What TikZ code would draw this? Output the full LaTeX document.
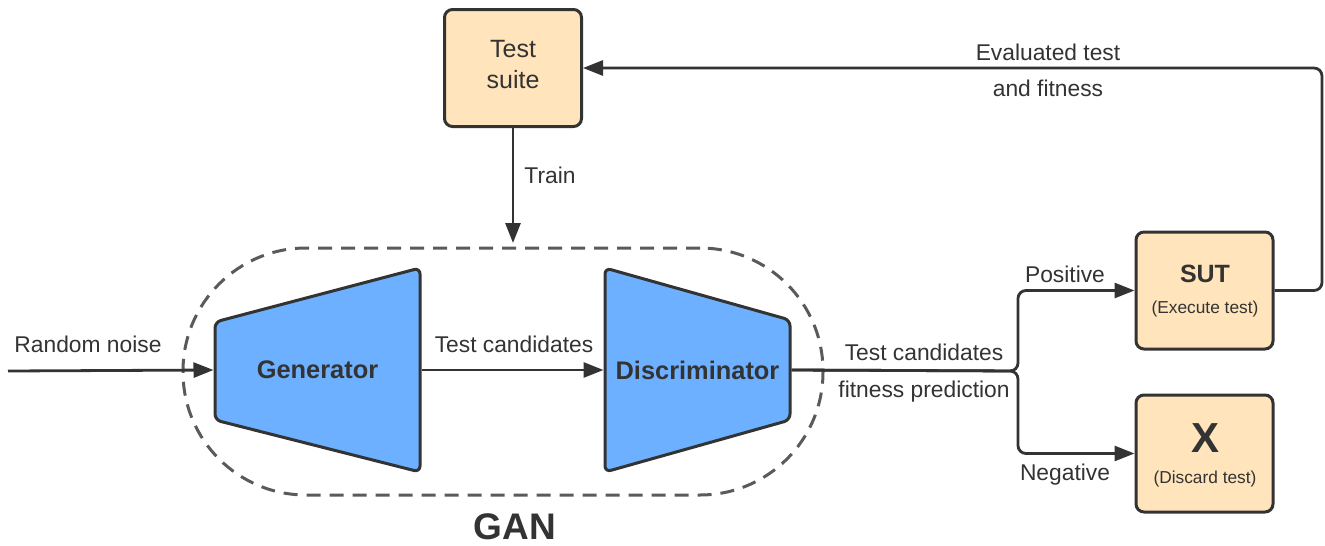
\documentclass[tikz,border=0pt]{standalone}
\usepackage{fontspec}
\setmainfont{Liberation Sans}
\usetikzlibrary{arrows.meta,calc}
\definecolor{ink}{HTML}{333333}
\definecolor{peach}{HTML}{FFE4BC}
\definecolor{azure}{HTML}{6CB0FF}
\definecolor{dashgray}{HTML}{5A5A5A}
\newcommand{\fsz}[1]{\fontsize{#1}{#1}\selectfont}

\begin{document}
\begin{tikzpicture}[x=1pt,y=-1pt,
  every node/.style={text=ink},
  box/.style={draw=ink, fill=peach, line width=3pt, rounded corners=8pt,
    minimum width=137pt, minimum height=117pt, inner sep=0pt},
  trap/.style={draw=ink, fill=azure, line width=3pt, rounded corners=6pt},
  holder/.style={inner sep=0pt, outer sep=0pt, minimum height=10pt,
    font=\fsz{25.4}\bfseries},
  lbl/.style={font=\fsz{22.8}, inner sep=0pt, anchor=base},
  boxtxt/.style={font=\fsz{25}, inner sep=0pt, anchor=base},
  smalltxt/.style={font=\fsz{17.3}, inner sep=0pt, anchor=base},
  conn/.style={draw=ink, line width=2.8pt},
  arrow/.style={conn, -{Triangle[length=20pt,width=15pt]}},
  gangroup/.style={draw=dashgray, line width=3pt, dash pattern=on 14pt off 9pt,
    rounded corners=123pt, minimum width=640pt, minimum height=247pt, inner sep=0pt}
]
\useasboundingbox (0,0) rectangle (1325,546);

% GAN group boundary
\node[gangroup] (gan) at (503,371.5) {};
\node[font=\fsz{37}\bfseries, inner sep=0pt, anchor=base] (gantitle) at (515,539) {GAN};

% generator and discriminator bodies
\path[trap] (215,322) -- (420,268) -- (420,472) -- (215,420) -- cycle;
\path[trap] (605,268) -- (790,320) -- (790,420) -- (605,472) -- cycle;
\node[holder, minimum width=208pt] (gen) at (317.5,370) {Generator};
\node[holder, minimum width=188pt] (disc) at (697.5,370) {Discriminator};

% boxes
\node[box] (ts) at (513,68) {};
\node[boxtxt] (tstext1) at (513,57) {Test};
\node[boxtxt] (tstext2) at (513,88) {suite};

\node[box] (sut) at (1204.5,290.5) {};
\node[font=\fsz{25}\bfseries, inner sep=0pt, anchor=base] (suttext) at (1205,282) {SUT};
\node[smalltxt] (sutsub) at (1205,313) {(Execute test)};

\node[box] (xbox) at (1204.5,453.5) {};
\node[font=\fsz{42}\bfseries, inner sep=0pt, anchor=base] (xtext) at (1205,452) {X};
\node[smalltxt] (xsub) at (1205,483) {(Discard test)};

% connectors
\coordinate (noise) at (8,371);
\coordinate (split) at (1018,371);
\coordinate (fbk) at (1322,68);

\draw[arrow] (noise) -- (gen.west);
\draw[arrow] (gen.east) -- (disc.west);
\draw[arrow] (ts.south) -- ([yshift=3.5pt]gan.north -| ts.south);
\draw[arrow, rounded corners=8pt] (disc.east) -- (split) |- (sut.west);
\draw[arrow, rounded corners=8pt] (disc.east) -- (split) |- (xbox.west);
\draw[arrow, rounded corners=8pt] (sut.east) -| (fbk) -- (ts.east);

% connector labels
\node[lbl] (lnoise) at (88,352) {Random noise};
\node[lbl] (lcand) at (514,352) {Test candidates};
\node[lbl] (ltrain) at (550,183.5) {Train};
\node[lbl] (lpred1) at (924,360) {Test candidates};
\node[lbl] (lpred2) at (924,397) {fitness prediction};
\node[lbl] (lpos) at (1065,282) {Positive};
\node[lbl] (lneg) at (1065,480) {Negative};
\node[lbl] (leval1) at (1048,60) {Evaluated test};
\node[lbl] (leval2) at (1048,96) {and fitness};
\end{tikzpicture}
\end{document}
